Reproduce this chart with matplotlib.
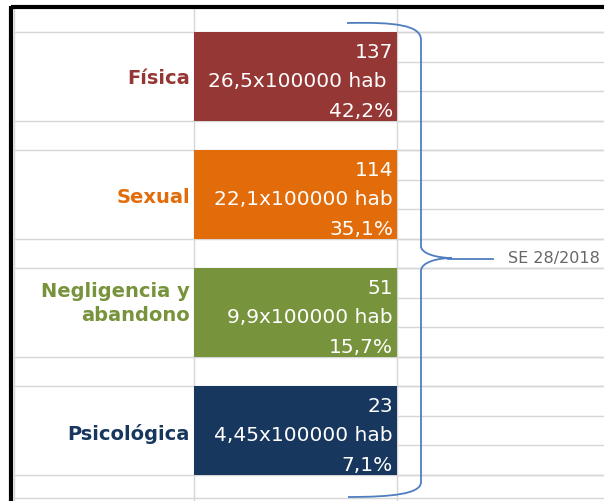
import matplotlib
matplotlib.use("Agg")
import matplotlib.pyplot as plt
from matplotlib.path import Path
from matplotlib.patches import PathPatch

# ---- data ----
categories = ["Física", "Sexual", "Negligencia y\nabandono", "Psicológica"]
casos = [137, 114, 51, 23]
tasas = ["26,5x100000 hab ", "22,1x100000 hab", "9,9x100000 hab", "4,45x100000 hab"]
porcentajes = ["42,2%", "35,1%", "15,7%", "7,1%"]
colores = ["#953735", "#E36C0A", "#77933C", "#17375E"]
periodo = "SE 28/2018"

W, H = 604, 501
fig = plt.figure(figsize=(W / 100, H / 100), dpi=100)
ax = fig.add_axes([0, 0, 1, 1])
ax.set_xlim(0, W)
ax.set_ylim(H, 0)
ax.axis("off")

# sheet layout (pixels)
ROW0, ROW_H = 32.0, 29.53
COL_A, COL_B, COL_C = 14, 194, 397
GRID = "#d6d6d6"


def row_y(k):
    return ROW0 + ROW_H * k


# gridlines
for k in range(16):
    ax.plot([COL_C, W], [row_y(k)] * 2, color=GRID, lw=1.0, zorder=1)
for k in [0, 3, 4, 7, 8, 11, 12, 15]:
    ax.plot([COL_A, W], [row_y(k)] * 2, color=GRID, lw=1.0, zorder=1)
ax.plot([COL_A, W], [498, 498], color=GRID, lw=1.0, zorder=1)
for x in [COL_A, COL_B, COL_C]:
    ax.plot([x, x], [8, H], color=GRID, lw=1.0, zorder=1)

# black border
ax.plot([11, W], [7, 7], color="black", lw=3.0, zorder=5, solid_capstyle="butt")
ax.plot([11, 11], [5.5, H], color="black", lw=3.0, zorder=5, solid_capstyle="butt")

# bars (merged cells, 3 rows each)
n = len(categories)
centers = [row_y(4 * i + 1.5) for i in range(n)]
ax.barh(centers, [COL_C - COL_B] * n, left=COL_B, height=3 * ROW_H,
        color=colores, zorder=2)

label_off = [2, 3, -9, 3]
for i in range(n):
    ax.text(190, centers[i] + label_off[i], categories[i], ha="right", va="center",
            multialignment="right", color=colores[i], fontsize=14,
            fontweight="bold", linespacing=1.35, zorder=3)
    lines = [str(casos[i]), tasas[i], porcentajes[i]]
    for j, t in enumerate(lines):
        ax.text(393, row_y(4 * i + j + 1) - 4, t, ha="right", va="baseline",
                color="white", fontsize=14.5, zorder=3)

# curly brace
verts = [
    (347, 23), (395, 22), (421, 25), (421, 40),
    (421, 246),
    (421, 254), (438, 258), (452, 258),
    (438, 258), (421, 262), (421, 271),
    (421, 482),
    (421, 494), (392, 497), (348, 497),
]
codes = [Path.MOVETO, Path.CURVE4, Path.CURVE4, Path.CURVE4,
         Path.LINETO,
         Path.CURVE4, Path.CURVE4, Path.CURVE4,
         Path.CURVE4, Path.CURVE4, Path.CURVE4,
         Path.LINETO,
         Path.CURVE4, Path.CURVE4, Path.CURVE4]
ax.add_patch(PathPatch(Path(verts, codes), facecolor="none",
                       edgecolor="#4F7EC0", lw=1.3, zorder=4))
ax.plot([448, 493], [258.5, 258.5], color="#4F7EC0", lw=1.3, zorder=4)

ax.text(508, 258.5, periodo, ha="left", va="center", color="#666666",
        fontsize=11.5, zorder=3)

fig.savefig("out.png", dpi=100)
